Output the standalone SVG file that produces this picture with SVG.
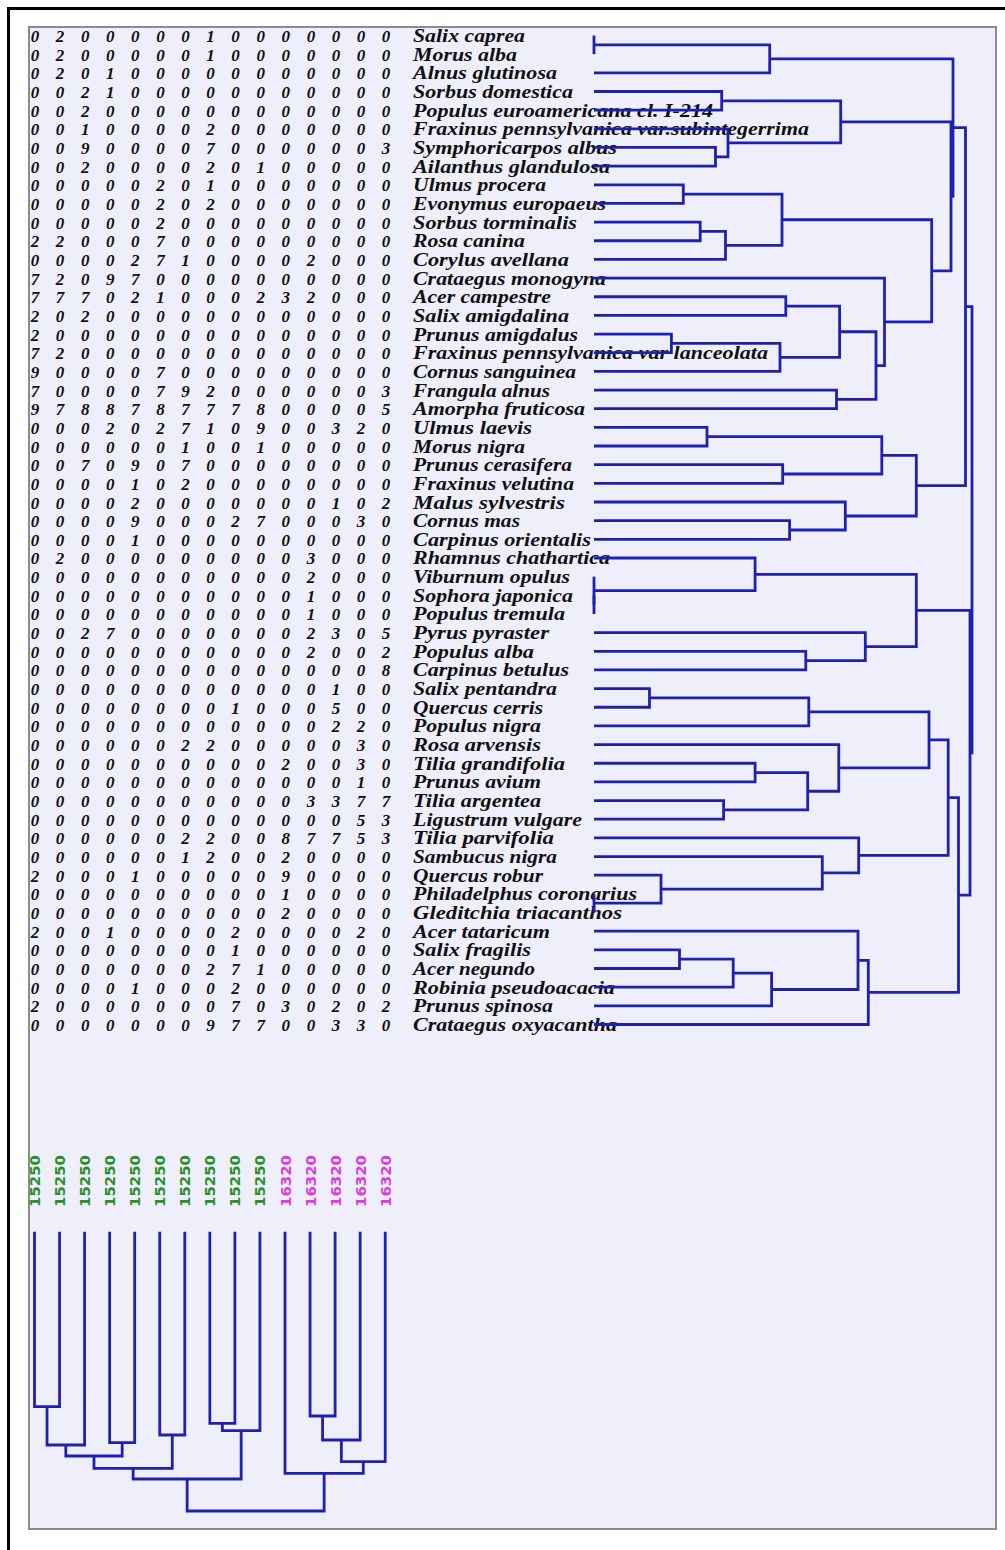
<svg xmlns="http://www.w3.org/2000/svg" width="1005" height="1550" viewBox="0 0 1005 1550">
<style>
.num{font-family:"Liberation Serif",serif;font-weight:bold;font-style:italic;font-size:17px;fill:#101010;text-anchor:middle}
.sp{font-family:"Liberation Serif",serif;font-weight:bold;font-style:italic;font-size:18px;fill:#101010}
.ln{fill:none;stroke:#2020b0;stroke-width:2.8;stroke-linejoin:miter}
.lab{font-family:"DejaVu Sans",sans-serif;font-weight:bold;font-size:14.5px}
.gA{fill:#2a8f2a}
.gB{fill:#de3ade}
</style>
<rect x="0" y="0" width="1005" height="1550" fill="#ffffff"/>
<path d="M7 8.5H1005M8.5 7V1550" stroke="#000" stroke-width="3" fill="none"/>
<rect x="29" y="27" width="967" height="1502" fill="#efeffb" stroke="#8c8c8c" stroke-width="2"/>
<g id="rows">
<g id="r01" transform="translate(0,42)"><text class="num" x="35 47.5 60.1 72.6 85.2 97.7 110.2 122.8 135.3 147.9 160.4 172.9 185.5 198 210.6 223.1 235.6 248.2 260.7 273.3 285.8 298.3 310.9 323.4 336 348.5 361 373.6 386.1">0 2 0 0 0 0 0 1 0 0 0 0 0 0 0</text><text class="sp" x="413" textLength="112" lengthAdjust="spacingAndGlyphs">Salix caprea</text></g>
<g id="r02" transform="translate(0,60.66)"><text class="num" x="35 47.5 60.1 72.6 85.2 97.7 110.2 122.8 135.3 147.9 160.4 172.9 185.5 198 210.6 223.1 235.6 248.2 260.7 273.3 285.8 298.3 310.9 323.4 336 348.5 361 373.6 386.1">0 2 0 0 0 0 0 1 0 0 0 0 0 0 0</text><text class="sp" x="413" textLength="104" lengthAdjust="spacingAndGlyphs">Morus alba</text></g>
<g id="r03" transform="translate(0,79.32)"><text class="num" x="35 47.5 60.1 72.6 85.2 97.7 110.2 122.8 135.3 147.9 160.4 172.9 185.5 198 210.6 223.1 235.6 248.2 260.7 273.3 285.8 298.3 310.9 323.4 336 348.5 361 373.6 386.1">0 2 0 1 0 0 0 0 0 0 0 0 0 0 0</text><text class="sp" x="413" textLength="144" lengthAdjust="spacingAndGlyphs">Alnus glutinosa</text></g>
<g id="r04" transform="translate(0,97.98)"><text class="num" x="35 47.5 60.1 72.6 85.2 97.7 110.2 122.8 135.3 147.9 160.4 172.9 185.5 198 210.6 223.1 235.6 248.2 260.7 273.3 285.8 298.3 310.9 323.4 336 348.5 361 373.6 386.1">0 0 2 1 0 0 0 0 0 0 0 0 0 0 0</text><text class="sp" x="413" textLength="160" lengthAdjust="spacingAndGlyphs">Sorbus domestica</text></g>
<g id="r05" transform="translate(0,116.64)"><text class="num" x="35 47.5 60.1 72.6 85.2 97.7 110.2 122.8 135.3 147.9 160.4 172.9 185.5 198 210.6 223.1 235.6 248.2 260.7 273.3 285.8 298.3 310.9 323.4 336 348.5 361 373.6 386.1">0 0 2 0 0 0 0 0 0 0 0 0 0 0 0</text><text class="sp" x="413" textLength="300" lengthAdjust="spacingAndGlyphs">Populus euroamericana cl. I-214</text></g>
<g id="r06" transform="translate(0,135.3)"><text class="num" x="35 47.5 60.1 72.6 85.2 97.7 110.2 122.8 135.3 147.9 160.4 172.9 185.5 198 210.6 223.1 235.6 248.2 260.7 273.3 285.8 298.3 310.9 323.4 336 348.5 361 373.6 386.1">0 0 1 0 0 0 0 2 0 0 0 0 0 0 0</text><text class="sp" x="413" textLength="396" lengthAdjust="spacingAndGlyphs">Fraxinus pennsylvanica var.subintegerrima</text></g>
<g id="r07" transform="translate(0,153.96)"><text class="num" x="35 47.5 60.1 72.6 85.2 97.7 110.2 122.8 135.3 147.9 160.4 172.9 185.5 198 210.6 223.1 235.6 248.2 260.7 273.3 285.8 298.3 310.9 323.4 336 348.5 361 373.6 386.1">0 0 9 0 0 0 0 7 0 0 0 0 0 0 3</text><text class="sp" x="413" textLength="204" lengthAdjust="spacingAndGlyphs">Symphoricarpos albus</text></g>
<g id="r08" transform="translate(0,172.62)"><text class="num" x="35 47.5 60.1 72.6 85.2 97.7 110.2 122.8 135.3 147.9 160.4 172.9 185.5 198 210.6 223.1 235.6 248.2 260.7 273.3 285.8 298.3 310.9 323.4 336 348.5 361 373.6 386.1">0 0 2 0 0 0 0 2 0 1 0 0 0 0 0</text><text class="sp" x="413" textLength="197" lengthAdjust="spacingAndGlyphs">Ailanthus glandulosa</text></g>
<g id="r09" transform="translate(0,191.28)"><text class="num" x="35 47.5 60.1 72.6 85.2 97.7 110.2 122.8 135.3 147.9 160.4 172.9 185.5 198 210.6 223.1 235.6 248.2 260.7 273.3 285.8 298.3 310.9 323.4 336 348.5 361 373.6 386.1">0 0 0 0 0 2 0 1 0 0 0 0 0 0 0</text><text class="sp" x="413" textLength="133" lengthAdjust="spacingAndGlyphs">Ulmus procera</text></g>
<g id="r10" transform="translate(0,209.94)"><text class="num" x="35 47.5 60.1 72.6 85.2 97.7 110.2 122.8 135.3 147.9 160.4 172.9 185.5 198 210.6 223.1 235.6 248.2 260.7 273.3 285.8 298.3 310.9 323.4 336 348.5 361 373.6 386.1">0 0 0 0 0 2 0 2 0 0 0 0 0 0 0</text><text class="sp" x="413" textLength="193" lengthAdjust="spacingAndGlyphs">Evonymus europaeus</text></g>
<g id="r11" transform="translate(0,228.6)"><text class="num" x="35 47.5 60.1 72.6 85.2 97.7 110.2 122.8 135.3 147.9 160.4 172.9 185.5 198 210.6 223.1 235.6 248.2 260.7 273.3 285.8 298.3 310.9 323.4 336 348.5 361 373.6 386.1">0 0 0 0 0 2 0 0 0 0 0 0 0 0 0</text><text class="sp" x="413" textLength="164" lengthAdjust="spacingAndGlyphs">Sorbus torminalis</text></g>
<g id="r12" transform="translate(0,247.26)"><text class="num" x="35 47.5 60.1 72.6 85.2 97.7 110.2 122.8 135.3 147.9 160.4 172.9 185.5 198 210.6 223.1 235.6 248.2 260.7 273.3 285.8 298.3 310.9 323.4 336 348.5 361 373.6 386.1">2 2 0 0 0 7 0 0 0 0 0 0 0 0 0</text><text class="sp" x="413" textLength="112" lengthAdjust="spacingAndGlyphs">Rosa canina</text></g>
<g id="r13" transform="translate(0,265.92)"><text class="num" x="35 47.5 60.1 72.6 85.2 97.7 110.2 122.8 135.3 147.9 160.4 172.9 185.5 198 210.6 223.1 235.6 248.2 260.7 273.3 285.8 298.3 310.9 323.4 336 348.5 361 373.6 386.1">0 0 0 0 2 7 1 0 0 0 0 2 0 0 0</text><text class="sp" x="413" textLength="156" lengthAdjust="spacingAndGlyphs">Corylus avellana</text></g>
<g id="r14" transform="translate(0,284.58)"><text class="num" x="35 47.5 60.1 72.6 85.2 97.7 110.2 122.8 135.3 147.9 160.4 172.9 185.5 198 210.6 223.1 235.6 248.2 260.7 273.3 285.8 298.3 310.9 323.4 336 348.5 361 373.6 386.1">7 2 0 9 7 0 0 0 0 0 0 0 0 0 0</text><text class="sp" x="413" textLength="193" lengthAdjust="spacingAndGlyphs">Crataegus monogyna</text></g>
<g id="r15" transform="translate(0,303.24)"><text class="num" x="35 47.5 60.1 72.6 85.2 97.7 110.2 122.8 135.3 147.9 160.4 172.9 185.5 198 210.6 223.1 235.6 248.2 260.7 273.3 285.8 298.3 310.9 323.4 336 348.5 361 373.6 386.1">7 7 7 0 2 1 0 0 0 2 3 2 0 0 0</text><text class="sp" x="413" textLength="138" lengthAdjust="spacingAndGlyphs">Acer campestre</text></g>
<g id="r16" transform="translate(0,321.9)"><text class="num" x="35 47.5 60.1 72.6 85.2 97.7 110.2 122.8 135.3 147.9 160.4 172.9 185.5 198 210.6 223.1 235.6 248.2 260.7 273.3 285.8 298.3 310.9 323.4 336 348.5 361 373.6 386.1">2 0 2 0 0 0 0 0 0 0 0 0 0 0 0</text><text class="sp" x="413" textLength="156" lengthAdjust="spacingAndGlyphs">Salix amigdalina</text></g>
<g id="r17" transform="translate(0,340.56)"><text class="num" x="35 47.5 60.1 72.6 85.2 97.7 110.2 122.8 135.3 147.9 160.4 172.9 185.5 198 210.6 223.1 235.6 248.2 260.7 273.3 285.8 298.3 310.9 323.4 336 348.5 361 373.6 386.1">2 0 0 0 0 0 0 0 0 0 0 0 0 0 0</text><text class="sp" x="413" textLength="165" lengthAdjust="spacingAndGlyphs">Prunus amigdalus</text></g>
<g id="r18" transform="translate(0,359.22)"><text class="num" x="35 47.5 60.1 72.6 85.2 97.7 110.2 122.8 135.3 147.9 160.4 172.9 185.5 198 210.6 223.1 235.6 248.2 260.7 273.3 285.8 298.3 310.9 323.4 336 348.5 361 373.6 386.1">7 2 0 0 0 0 0 0 0 0 0 0 0 0 0</text><text class="sp" x="413" textLength="355" lengthAdjust="spacingAndGlyphs">Fraxinus pennsylvanica var lanceolata</text></g>
<g id="r19" transform="translate(0,377.88)"><text class="num" x="35 47.5 60.1 72.6 85.2 97.7 110.2 122.8 135.3 147.9 160.4 172.9 185.5 198 210.6 223.1 235.6 248.2 260.7 273.3 285.8 298.3 310.9 323.4 336 348.5 361 373.6 386.1">9 0 0 0 0 7 0 0 0 0 0 0 0 0 0</text><text class="sp" x="413" textLength="163" lengthAdjust="spacingAndGlyphs">Cornus sanguinea</text></g>
<g id="r20" transform="translate(0,396.54)"><text class="num" x="35 47.5 60.1 72.6 85.2 97.7 110.2 122.8 135.3 147.9 160.4 172.9 185.5 198 210.6 223.1 235.6 248.2 260.7 273.3 285.8 298.3 310.9 323.4 336 348.5 361 373.6 386.1">7 0 0 0 0 7 9 2 0 0 0 0 0 0 3</text><text class="sp" x="413" textLength="137" lengthAdjust="spacingAndGlyphs">Frangula alnus</text></g>
<g id="r21" transform="translate(0,415.2)"><text class="num" x="35 47.5 60.1 72.6 85.2 97.7 110.2 122.8 135.3 147.9 160.4 172.9 185.5 198 210.6 223.1 235.6 248.2 260.7 273.3 285.8 298.3 310.9 323.4 336 348.5 361 373.6 386.1">9 7 8 8 7 8 7 7 7 8 0 0 0 0 5</text><text class="sp" x="413" textLength="172" lengthAdjust="spacingAndGlyphs">Amorpha fruticosa</text></g>
<g id="r22" transform="translate(0,433.86)"><text class="num" x="35 47.5 60.1 72.6 85.2 97.7 110.2 122.8 135.3 147.9 160.4 172.9 185.5 198 210.6 223.1 235.6 248.2 260.7 273.3 285.8 298.3 310.9 323.4 336 348.5 361 373.6 386.1">0 0 0 2 0 2 7 1 0 9 0 0 3 2 0</text><text class="sp" x="413" textLength="119" lengthAdjust="spacingAndGlyphs">Ulmus laevis</text></g>
<g id="r23" transform="translate(0,452.52)"><text class="num" x="35 47.5 60.1 72.6 85.2 97.7 110.2 122.8 135.3 147.9 160.4 172.9 185.5 198 210.6 223.1 235.6 248.2 260.7 273.3 285.8 298.3 310.9 323.4 336 348.5 361 373.6 386.1">0 0 0 0 0 0 1 0 0 1 0 0 0 0 0</text><text class="sp" x="413" textLength="112" lengthAdjust="spacingAndGlyphs">Morus nigra</text></g>
<g id="r24" transform="translate(0,471.18)"><text class="num" x="35 47.5 60.1 72.6 85.2 97.7 110.2 122.8 135.3 147.9 160.4 172.9 185.5 198 210.6 223.1 235.6 248.2 260.7 273.3 285.8 298.3 310.9 323.4 336 348.5 361 373.6 386.1">0 0 7 0 9 0 7 0 0 0 0 0 0 0 0</text><text class="sp" x="413" textLength="159" lengthAdjust="spacingAndGlyphs">Prunus cerasifera</text></g>
<g id="r25" transform="translate(0,489.84)"><text class="num" x="35 47.5 60.1 72.6 85.2 97.7 110.2 122.8 135.3 147.9 160.4 172.9 185.5 198 210.6 223.1 235.6 248.2 260.7 273.3 285.8 298.3 310.9 323.4 336 348.5 361 373.6 386.1">0 0 0 0 1 0 2 0 0 0 0 0 0 0 0</text><text class="sp" x="413" textLength="161" lengthAdjust="spacingAndGlyphs">Fraxinus velutina</text></g>
<g id="r26" transform="translate(0,508.5)"><text class="num" x="35 47.5 60.1 72.6 85.2 97.7 110.2 122.8 135.3 147.9 160.4 172.9 185.5 198 210.6 223.1 235.6 248.2 260.7 273.3 285.8 298.3 310.9 323.4 336 348.5 361 373.6 386.1">0 0 0 0 2 0 0 0 0 0 0 0 1 0 2</text><text class="sp" x="413" textLength="152" lengthAdjust="spacingAndGlyphs">Malus sylvestris</text></g>
<g id="r27" transform="translate(0,527.16)"><text class="num" x="35 47.5 60.1 72.6 85.2 97.7 110.2 122.8 135.3 147.9 160.4 172.9 185.5 198 210.6 223.1 235.6 248.2 260.7 273.3 285.8 298.3 310.9 323.4 336 348.5 361 373.6 386.1">0 0 0 0 9 0 0 0 2 7 0 0 0 3 0</text><text class="sp" x="413" textLength="107" lengthAdjust="spacingAndGlyphs">Cornus mas</text></g>
<g id="r28" transform="translate(0,545.82)"><text class="num" x="35 47.5 60.1 72.6 85.2 97.7 110.2 122.8 135.3 147.9 160.4 172.9 185.5 198 210.6 223.1 235.6 248.2 260.7 273.3 285.8 298.3 310.9 323.4 336 348.5 361 373.6 386.1">0 0 0 0 1 0 0 0 0 0 0 0 0 0 0</text><text class="sp" x="413" textLength="178" lengthAdjust="spacingAndGlyphs">Carpinus orientalis</text></g>
<g id="r29" transform="translate(0,564.48)"><text class="num" x="35 47.5 60.1 72.6 85.2 97.7 110.2 122.8 135.3 147.9 160.4 172.9 185.5 198 210.6 223.1 235.6 248.2 260.7 273.3 285.8 298.3 310.9 323.4 336 348.5 361 373.6 386.1">0 2 0 0 0 0 0 0 0 0 0 3 0 0 0</text><text class="sp" x="413" textLength="197" lengthAdjust="spacingAndGlyphs">Rhamnus chathartica</text></g>
<g id="r30" transform="translate(0,583.14)"><text class="num" x="35 47.5 60.1 72.6 85.2 97.7 110.2 122.8 135.3 147.9 160.4 172.9 185.5 198 210.6 223.1 235.6 248.2 260.7 273.3 285.8 298.3 310.9 323.4 336 348.5 361 373.6 386.1">0 0 0 0 0 0 0 0 0 0 0 2 0 0 0</text><text class="sp" x="413" textLength="157" lengthAdjust="spacingAndGlyphs">Viburnum opulus</text></g>
<g id="r31" transform="translate(0,601.8)"><text class="num" x="35 47.5 60.1 72.6 85.2 97.7 110.2 122.8 135.3 147.9 160.4 172.9 185.5 198 210.6 223.1 235.6 248.2 260.7 273.3 285.8 298.3 310.9 323.4 336 348.5 361 373.6 386.1">0 0 0 0 0 0 0 0 0 0 0 1 0 0 0</text><text class="sp" x="413" textLength="160" lengthAdjust="spacingAndGlyphs">Sophora japonica</text></g>
<g id="r32" transform="translate(0,620.46)"><text class="num" x="35 47.5 60.1 72.6 85.2 97.7 110.2 122.8 135.3 147.9 160.4 172.9 185.5 198 210.6 223.1 235.6 248.2 260.7 273.3 285.8 298.3 310.9 323.4 336 348.5 361 373.6 386.1">0 0 0 0 0 0 0 0 0 0 0 1 0 0 0</text><text class="sp" x="413" textLength="152" lengthAdjust="spacingAndGlyphs">Populus tremula</text></g>
<g id="r33" transform="translate(0,639.12)"><text class="num" x="35 47.5 60.1 72.6 85.2 97.7 110.2 122.8 135.3 147.9 160.4 172.9 185.5 198 210.6 223.1 235.6 248.2 260.7 273.3 285.8 298.3 310.9 323.4 336 348.5 361 373.6 386.1">0 0 2 7 0 0 0 0 0 0 0 2 3 0 5</text><text class="sp" x="413" textLength="136" lengthAdjust="spacingAndGlyphs">Pyrus pyraster</text></g>
<g id="r34" transform="translate(0,657.78)"><text class="num" x="35 47.5 60.1 72.6 85.2 97.7 110.2 122.8 135.3 147.9 160.4 172.9 185.5 198 210.6 223.1 235.6 248.2 260.7 273.3 285.8 298.3 310.9 323.4 336 348.5 361 373.6 386.1">0 0 0 0 0 0 0 0 0 0 0 2 0 0 2</text><text class="sp" x="413" textLength="121" lengthAdjust="spacingAndGlyphs">Populus alba</text></g>
<g id="r35" transform="translate(0,676.44)"><text class="num" x="35 47.5 60.1 72.6 85.2 97.7 110.2 122.8 135.3 147.9 160.4 172.9 185.5 198 210.6 223.1 235.6 248.2 260.7 273.3 285.8 298.3 310.9 323.4 336 348.5 361 373.6 386.1">0 0 0 0 0 0 0 0 0 0 0 0 0 0 8</text><text class="sp" x="413" textLength="156" lengthAdjust="spacingAndGlyphs">Carpinus betulus</text></g>
<g id="r36" transform="translate(0,695.1)"><text class="num" x="35 47.5 60.1 72.6 85.2 97.7 110.2 122.8 135.3 147.9 160.4 172.9 185.5 198 210.6 223.1 235.6 248.2 260.7 273.3 285.8 298.3 310.9 323.4 336 348.5 361 373.6 386.1">0 0 0 0 0 0 0 0 0 0 0 0 1 0 0</text><text class="sp" x="413" textLength="144" lengthAdjust="spacingAndGlyphs">Salix pentandra</text></g>
<g id="r37" transform="translate(0,713.76)"><text class="num" x="35 47.5 60.1 72.6 85.2 97.7 110.2 122.8 135.3 147.9 160.4 172.9 185.5 198 210.6 223.1 235.6 248.2 260.7 273.3 285.8 298.3 310.9 323.4 336 348.5 361 373.6 386.1">0 0 0 0 0 0 0 0 1 0 0 0 5 0 0</text><text class="sp" x="413" textLength="130" lengthAdjust="spacingAndGlyphs">Quercus cerris</text></g>
<g id="r38" transform="translate(0,732.42)"><text class="num" x="35 47.5 60.1 72.6 85.2 97.7 110.2 122.8 135.3 147.9 160.4 172.9 185.5 198 210.6 223.1 235.6 248.2 260.7 273.3 285.8 298.3 310.9 323.4 336 348.5 361 373.6 386.1">0 0 0 0 0 0 0 0 0 0 0 0 2 2 0</text><text class="sp" x="413" textLength="128" lengthAdjust="spacingAndGlyphs">Populus nigra</text></g>
<g id="r39" transform="translate(0,751.08)"><text class="num" x="35 47.5 60.1 72.6 85.2 97.7 110.2 122.8 135.3 147.9 160.4 172.9 185.5 198 210.6 223.1 235.6 248.2 260.7 273.3 285.8 298.3 310.9 323.4 336 348.5 361 373.6 386.1">0 0 0 0 0 0 2 2 0 0 0 0 0 3 0</text><text class="sp" x="413" textLength="128" lengthAdjust="spacingAndGlyphs">Rosa arvensis</text></g>
<g id="r40" transform="translate(0,769.74)"><text class="num" x="35 47.5 60.1 72.6 85.2 97.7 110.2 122.8 135.3 147.9 160.4 172.9 185.5 198 210.6 223.1 235.6 248.2 260.7 273.3 285.8 298.3 310.9 323.4 336 348.5 361 373.6 386.1">0 0 0 0 0 0 0 0 0 0 2 0 0 3 0</text><text class="sp" x="413" textLength="152" lengthAdjust="spacingAndGlyphs">Tilia grandifolia</text></g>
<g id="r41" transform="translate(0,788.4)"><text class="num" x="35 47.5 60.1 72.6 85.2 97.7 110.2 122.8 135.3 147.9 160.4 172.9 185.5 198 210.6 223.1 235.6 248.2 260.7 273.3 285.8 298.3 310.9 323.4 336 348.5 361 373.6 386.1">0 0 0 0 0 0 0 0 0 0 0 0 0 1 0</text><text class="sp" x="413" textLength="128" lengthAdjust="spacingAndGlyphs">Prunus avium</text></g>
<g id="r42" transform="translate(0,807.06)"><text class="num" x="35 47.5 60.1 72.6 85.2 97.7 110.2 122.8 135.3 147.9 160.4 172.9 185.5 198 210.6 223.1 235.6 248.2 260.7 273.3 285.8 298.3 310.9 323.4 336 348.5 361 373.6 386.1">0 0 0 0 0 0 0 0 0 0 0 3 3 7 7</text><text class="sp" x="413" textLength="128" lengthAdjust="spacingAndGlyphs">Tilia argentea</text></g>
<g id="r43" transform="translate(0,825.72)"><text class="num" x="35 47.5 60.1 72.6 85.2 97.7 110.2 122.8 135.3 147.9 160.4 172.9 185.5 198 210.6 223.1 235.6 248.2 260.7 273.3 285.8 298.3 310.9 323.4 336 348.5 361 373.6 386.1">0 0 0 0 0 0 0 0 0 0 0 0 0 5 3</text><text class="sp" x="413" textLength="169" lengthAdjust="spacingAndGlyphs">Ligustrum vulgare</text></g>
<g id="r44" transform="translate(0,844.38)"><text class="num" x="35 47.5 60.1 72.6 85.2 97.7 110.2 122.8 135.3 147.9 160.4 172.9 185.5 198 210.6 223.1 235.6 248.2 260.7 273.3 285.8 298.3 310.9 323.4 336 348.5 361 373.6 386.1">0 0 0 0 0 0 2 2 0 0 8 7 7 5 3</text><text class="sp" x="413" textLength="141" lengthAdjust="spacingAndGlyphs">Tilia parvifolia</text></g>
<g id="r45" transform="translate(0,863.04)"><text class="num" x="35 47.5 60.1 72.6 85.2 97.7 110.2 122.8 135.3 147.9 160.4 172.9 185.5 198 210.6 223.1 235.6 248.2 260.7 273.3 285.8 298.3 310.9 323.4 336 348.5 361 373.6 386.1">0 0 0 0 0 0 1 2 0 0 2 0 0 0 0</text><text class="sp" x="413" textLength="144" lengthAdjust="spacingAndGlyphs">Sambucus nigra</text></g>
<g id="r46" transform="translate(0,881.7)"><text class="num" x="35 47.5 60.1 72.6 85.2 97.7 110.2 122.8 135.3 147.9 160.4 172.9 185.5 198 210.6 223.1 235.6 248.2 260.7 273.3 285.8 298.3 310.9 323.4 336 348.5 361 373.6 386.1">2 0 0 0 1 0 0 0 0 0 9 0 0 0 0</text><text class="sp" x="413" textLength="130" lengthAdjust="spacingAndGlyphs">Quercus robur</text></g>
<g id="r47" transform="translate(0,900.36)"><text class="num" x="35 47.5 60.1 72.6 85.2 97.7 110.2 122.8 135.3 147.9 160.4 172.9 185.5 198 210.6 223.1 235.6 248.2 260.7 273.3 285.8 298.3 310.9 323.4 336 348.5 361 373.6 386.1">0 0 0 0 0 0 0 0 0 0 1 0 0 0 0</text><text class="sp" x="413" textLength="224" lengthAdjust="spacingAndGlyphs">Philadelphus coronarius</text></g>
<g id="r48" transform="translate(0,919.02)"><text class="num" x="35 47.5 60.1 72.6 85.2 97.7 110.2 122.8 135.3 147.9 160.4 172.9 185.5 198 210.6 223.1 235.6 248.2 260.7 273.3 285.8 298.3 310.9 323.4 336 348.5 361 373.6 386.1">0 0 0 0 0 0 0 0 0 0 2 0 0 0 0</text><text class="sp" x="413" textLength="209" lengthAdjust="spacingAndGlyphs">Gleditchia triacanthos</text></g>
<g id="r49" transform="translate(0,937.68)"><text class="num" x="35 47.5 60.1 72.6 85.2 97.7 110.2 122.8 135.3 147.9 160.4 172.9 185.5 198 210.6 223.1 235.6 248.2 260.7 273.3 285.8 298.3 310.9 323.4 336 348.5 361 373.6 386.1">2 0 0 1 0 0 0 0 2 0 0 0 0 2 0</text><text class="sp" x="413" textLength="137" lengthAdjust="spacingAndGlyphs">Acer tataricum</text></g>
<g id="r50" transform="translate(0,956.34)"><text class="num" x="35 47.5 60.1 72.6 85.2 97.7 110.2 122.8 135.3 147.9 160.4 172.9 185.5 198 210.6 223.1 235.6 248.2 260.7 273.3 285.8 298.3 310.9 323.4 336 348.5 361 373.6 386.1">0 0 0 0 0 0 0 0 1 0 0 0 0 0 0</text><text class="sp" x="413" textLength="118" lengthAdjust="spacingAndGlyphs">Salix fragilis</text></g>
<g id="r51" transform="translate(0,975)"><text class="num" x="35 47.5 60.1 72.6 85.2 97.7 110.2 122.8 135.3 147.9 160.4 172.9 185.5 198 210.6 223.1 235.6 248.2 260.7 273.3 285.8 298.3 310.9 323.4 336 348.5 361 373.6 386.1">0 0 0 0 0 0 0 2 7 1 0 0 0 0 0</text><text class="sp" x="413" textLength="122" lengthAdjust="spacingAndGlyphs">Acer negundo</text></g>
<g id="r52" transform="translate(0,993.66)"><text class="num" x="35 47.5 60.1 72.6 85.2 97.7 110.2 122.8 135.3 147.9 160.4 172.9 185.5 198 210.6 223.1 235.6 248.2 260.7 273.3 285.8 298.3 310.9 323.4 336 348.5 361 373.6 386.1">0 0 0 0 1 0 0 0 2 0 0 0 0 0 0</text><text class="sp" x="413" textLength="202" lengthAdjust="spacingAndGlyphs">Robinia pseudoacacia</text></g>
<g id="r53" transform="translate(0,1012.32)"><text class="num" x="35 47.5 60.1 72.6 85.2 97.7 110.2 122.8 135.3 147.9 160.4 172.9 185.5 198 210.6 223.1 235.6 248.2 260.7 273.3 285.8 298.3 310.9 323.4 336 348.5 361 373.6 386.1">2 0 0 0 0 0 0 0 7 0 3 0 2 0 2</text><text class="sp" x="413" textLength="140" lengthAdjust="spacingAndGlyphs">Prunus spinosa</text></g>
<g id="r54" transform="translate(0,1030.98)"><text class="num" x="35 47.5 60.1 72.6 85.2 97.7 110.2 122.8 135.3 147.9 160.4 172.9 185.5 198 210.6 223.1 235.6 248.2 260.7 273.3 285.8 298.3 310.9 323.4 336 348.5 361 373.6 386.1">0 0 0 0 0 0 0 9 7 7 0 0 3 3 0</text><text class="sp" x="413" textLength="204" lengthAdjust="spacingAndGlyphs">Crataegus oxyacantha</text></g>
</g>
<g id="columns" class="lab">
<g id="c01"><text class="gA" transform="translate(40,1207) rotate(-90)" textLength="52" lengthAdjust="spacingAndGlyphs">15250</text></g>
<g id="c02"><text class="gA" transform="translate(65,1207) rotate(-90)" textLength="52" lengthAdjust="spacingAndGlyphs">15250</text></g>
<g id="c03"><text class="gA" transform="translate(90.1,1207) rotate(-90)" textLength="52" lengthAdjust="spacingAndGlyphs">15250</text></g>
<g id="c04"><text class="gA" transform="translate(115.1,1207) rotate(-90)" textLength="52" lengthAdjust="spacingAndGlyphs">15250</text></g>
<g id="c05"><text class="gA" transform="translate(140.2,1207) rotate(-90)" textLength="52" lengthAdjust="spacingAndGlyphs">15250</text></g>
<g id="c06"><text class="gA" transform="translate(165.2,1207) rotate(-90)" textLength="52" lengthAdjust="spacingAndGlyphs">15250</text></g>
<g id="c07"><text class="gA" transform="translate(190.3,1207) rotate(-90)" textLength="52" lengthAdjust="spacingAndGlyphs">15250</text></g>
<g id="c08"><text class="gA" transform="translate(215.3,1207) rotate(-90)" textLength="52" lengthAdjust="spacingAndGlyphs">15250</text></g>
<g id="c09"><text class="gA" transform="translate(240.4,1207) rotate(-90)" textLength="52" lengthAdjust="spacingAndGlyphs">15250</text></g>
<g id="c10"><text class="gA" transform="translate(265.4,1207) rotate(-90)" textLength="52" lengthAdjust="spacingAndGlyphs">15250</text></g>
<g id="c11"><text class="gB" transform="translate(290.5,1207) rotate(-90)" textLength="52" lengthAdjust="spacingAndGlyphs">16320</text></g>
<g id="c12"><text class="gB" transform="translate(315.5,1207) rotate(-90)" textLength="52" lengthAdjust="spacingAndGlyphs">16320</text></g>
<g id="c13"><text class="gB" transform="translate(340.6,1207) rotate(-90)" textLength="52" lengthAdjust="spacingAndGlyphs">16320</text></g>
<g id="c14"><text class="gB" transform="translate(365.6,1207) rotate(-90)" textLength="52" lengthAdjust="spacingAndGlyphs">16320</text></g>
<g id="c15"><text class="gB" transform="translate(390.7,1207) rotate(-90)" textLength="52" lengthAdjust="spacingAndGlyphs">16320</text></g>
</g>
<g id="connectors" class="ln">
<path d="M594 35.5V54.16"/>
<path d="M594 44.83H769.7V72.82H594"/>
<path d="M594 91.48H721.7V110.14H594"/>
<path d="M594 147.46H715.5V166.12H594"/>
<path d="M594 128.8H728V156.79H715.5"/>
<path d="M721.7 100.81H840.7V142.8H728"/>
<path d="M594 184.78H683.3V203.44H594"/>
<path d="M594 222.1H700.2V240.76H594"/>
<path d="M700.2 231.43H725.5V259.42H594"/>
<path d="M683.3 194.11H782V245.43H725.5"/>
<path d="M594 296.74H785.8V315.4H594"/>
<path d="M594 334.06H671.4V352.72H594"/>
<path d="M671.4 343.39H780V371.38H594"/>
<path d="M785.8 306.07H839.6V357.39H780"/>
<path d="M594 390.04H836.5V408.7H594"/>
<path d="M839.6 331.73H876V399.37H836.5"/>
<path d="M594 278.08H884.5V365.55H876"/>
<path d="M782 219.77H931.7V321.82H884.5"/>
<path d="M840.7 121.8H951V270.79H931.7"/>
<path d="M769.7 58.83H953V196.3H951"/>
<path d="M594 427.36H707V446.02H594"/>
<path d="M594 464.68H782.7V483.34H594"/>
<path d="M707 436.69H881.8V474.01H782.7"/>
<path d="M594 520.66H789.6V539.32H594"/>
<path d="M594 502H845.3V529.99H789.6"/>
<path d="M881.8 455.35H916.3V516H845.3"/>
<path d="M953 127.56H965.5V485.67H916.3"/>
<path d="M594 595.3V613.96"/>
<path d="M594 576.64V604.63"/>
<path d="M594 557.98H755.1V590.63H594"/>
<path d="M594 651.28H805.8V669.94H594"/>
<path d="M594 632.62H865.3V660.61H805.8"/>
<path d="M755.1 574.3H916.3V646.62H865.3"/>
<path d="M594 688.6H649.5V707.26H594"/>
<path d="M649.5 697.93H808.8V725.92H594"/>
<path d="M594 763.24H755.1V781.9H594"/>
<path d="M594 800.56H723.6V819.22H594"/>
<path d="M755.1 772.57H807.7V809.89H723.6"/>
<path d="M594 744.58H838.8V791.23H807.7"/>
<path d="M808.8 711.93H929V767.91H838.8"/>
<path d="M594 893.86V912.52"/>
<path d="M594 875.2H661V903.19H594"/>
<path d="M594 856.54H822.3V889.2H661"/>
<path d="M594 837.88H858.7V872.87H822.3"/>
<path d="M929 739.92H948.2V855.38H858.7"/>
<path d="M594 949.84H679.5V968.5H594"/>
<path d="M679.5 959.17H733.2V987.16H594"/>
<path d="M733.2 973.17H771.6V1005.82H594"/>
<path d="M594 931.18H858V989.5H771.6"/>
<path d="M858 960.34H868.3V1024.48H594"/>
<path d="M948.2 797.65H958.5V992.41H868.3"/>
<path d="M916.3 610.46H970V895.03H958.5"/>
<path d="M965.5 306.62H972V752.75H970"/>
<path d="M34.5 1231.7V1406.7H59.55V1231.7"/>
<path d="M47.03 1406.7V1445H84.6V1231.7"/>
<path d="M109.65 1231.7V1442.7H134.7V1231.7"/>
<path d="M65.81 1445V1456H122.18V1442.7"/>
<path d="M159.75 1231.7V1435H184.8V1231.7"/>
<path d="M93.99 1456V1468.3H172.28V1435"/>
<path d="M209.85 1231.7V1423.3H234.9V1231.7"/>
<path d="M222.38 1423.3V1430.7H259.95V1231.7"/>
<path d="M133.13 1468.3V1479H241.16V1430.7"/>
<path d="M310.05 1231.7V1416H335.1V1231.7"/>
<path d="M322.58 1416V1440H360.15V1231.7"/>
<path d="M341.36 1440V1461.7H385.2V1231.7"/>
<path d="M285 1231.7V1473.3H363.28V1461.7"/>
<path d="M187.14 1479V1511H324.14V1473.3"/>
</g>
</svg>
